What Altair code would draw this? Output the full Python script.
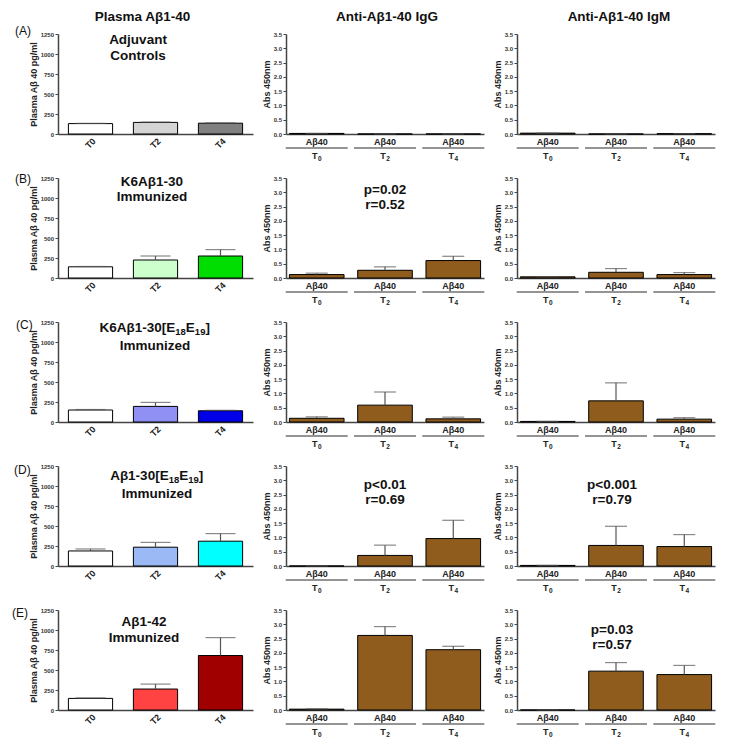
import altair as alt
import pandas as pd

FONT = "Liberation Sans"

# ---------------- data ----------------
times = ["T0", "T2", "T4"]
time_letter = ["T", "T", "T"]
time_digit = ["0", "2", "4"]
antigen = ["Aβ40", "Aβ40", "Aβ40"]
row_labels = ["(A)", "(B)", "(C)", "(D)", "(E)"]
grp_line1 = ["Adjuvant", "K6Aβ1-30", "K6Aβ1-30[E", "Aβ1-30[E", "Aβ1-42"]
grp_line1_tail = [[], [], ["18", "E", "19", "]"], ["18", "E", "19", "]"], []]
grp_line2 = ["Controls", "Immunized", "Immunized", "Immunized", "Immunized"]
col_titles = ["Plasma Aβ1-40", "Anti-Aβ1-40 IgG", "Anti-Aβ1-40 IgM"]

plasma_mean = [[130, 145, 135], [140, 225, 275], [150, 195, 140], [188, 235, 310], [145, 262, 681]]
plasma_sem = [[3, 4, 4], [4, 50, 80], [6, 50, 6], [25, 60, 95], [6, 62, 224]]

igg_mean = [[0.02, 0.0, 0.0], [0.12, 0.27, 0.61], [0.13, 0.59, 0.11], [0.0, 0.37, 0.96], [0.03, 2.61, 2.11]]
igg_sem = [[0.0, 0.0, 0.0], [0.05, 0.12, 0.15], [0.05, 0.46, 0.06], [0.0, 0.36, 0.64], [0.01, 0.31, 0.12]]

igm_mean = [[0.03, 0.0, 0.01], [0.04, 0.20, 0.12], [0.02, 0.74, 0.10], [0.02, 0.72, 0.68], [0.0, 1.36, 1.24]]
igm_sem = [[0.0, 0.0, 0.0], [0.01, 0.13, 0.07], [0.0, 0.63, 0.05], [0.0, 0.67, 0.42], [0.0, 0.30, 0.32]]

igg_stats = ["", "p=0.02\nr=0.52", "", "p<0.01\nr=0.69", ""]
igm_stats = ["", "", "", "p<0.001\nr=0.79", "p=0.03\nr=0.57"]

plasma_ticks = [0, 250, 500, 750, 1000, 1250]
abs_ticks = [0.0, 0.5, 1.0, 1.5, 2.0, 2.5, 3.0, 3.5]

# ---------------- styles / layout ----------------
plasma_colors = [
    ["#ffffff", "#d4d4d4", "#808080"],
    ["#ffffff", "#ccffcc", "#00dd00"],
    ["#ffffff", "#9090f4", "#0000e8"],
    ["#ffffff", "#9ab9f5", "#00ffff"],
    ["#ffffff", "#ff4242", "#a00000"],
]
BROWN = "#8f5c1e"
AX = "#444444"
ERR = "#555555"
W1, W2, H = 195, 198, 100
GFS = 13.5      # group title font size
SFS = 9.5       # subscript font size
SUB_DY = 3.5

rowlab_x = [-43, -43, -42, -44, -46]
rowlab_y = [-3, 1, 3, 4, 3]
grp_x = [80, 94, 97, 99, 86]
grp_y1 = [6, 4, 6, 10, 12]
grp_y2 = [22, 19, 24, 28, 28]
igg_stat_y = [0, 11.5, 0, 18.5, 0]
igm_stat_y = [0, 0, 0, 18.5, 19.5]
title_x = [W1 / 2 - 13, W2 / 2 + 2, W2 / 2 + 3]
TITLE_Y = -17


def y_axis(title, values, fmt):
    return alt.Axis(
        title=title, values=values, format=fmt, grid=False, labelOverlap=False,
        tickSize=3, tickColor=AX, tickWidth=1,
        domainColor=AX, domainWidth=1.5,
        labelFontSize=6, labelFontWeight="bold", labelColor="#333333", labelPadding=1.5,
        titleFontSize=9, titleFontWeight="bold", titleColor="#222222", titlePadding=2,
    )


def txt(s, x, y, size, align="center", weight="bold", dy=0):
    return alt.Chart(pd.DataFrame({"s": [s]})).mark_text(
        align=align, baseline="middle", fontSize=size, fontWeight=weight,
        color="#111111", dy=dy).encode(text="s:N", x=alt.value(x), y=alt.value(y))


def col_title(j):
    return txt(col_titles[j], title_x[j], TITLE_Y, 13.5)


def group_title(i):
    layers = []
    tail = grp_line1_tail[i]
    if not tail:
        layers.append(txt(grp_line1[i], grp_x[i], grp_y1[i], GFS))
    else:
        # estimated widths (bold Arial metrics) of the trailing pieces
        sub_w = lambda s: 0.556 * SFS * len(s)
        w_tail = sub_w(tail[0]) + 0.667 * GFS + sub_w(tail[2]) + 0.333 * GFS
        w_main = {"K6Aβ1-30[E": 5.57 * GFS, "Aβ1-30[E": 4.29 * GFS}[grp_line1[i]]
        x0 = grp_x[i] - (w_main + w_tail) / 2 + w_main
        layers.append(txt(grp_line1[i], x0, grp_y1[i], GFS, align="right"))
        xc = x0
        layers.append(txt(tail[0], xc, grp_y1[i], SFS, align="left", dy=SUB_DY))
        xc += sub_w(tail[0])
        layers.append(txt(tail[1], xc, grp_y1[i], GFS, align="left"))
        xc += 0.667 * GFS
        layers.append(txt(tail[2], xc, grp_y1[i], SFS, align="left", dy=SUB_DY))
        xc += sub_w(tail[2])
        layers.append(txt(tail[3], xc, grp_y1[i], GFS, align="left"))
    layers.append(txt(grp_line2[i], grp_x[i], grp_y2[i], GFS))
    return layers


def plasma_panel(i):
    df = pd.DataFrame({"t": times, "mean": plasma_mean[i], "sem": plasma_sem[i],
                       "c": plasma_colors[i]})
    df["top"] = df["mean"] + df["sem"]
    x = alt.X(
        "t:N", sort=times,
        scale=alt.Scale(paddingInner=0.32, paddingOuter=0.16),
        axis=alt.Axis(title=None, labelAngle=-45, ticks=False, labelFontSize=9,
                      labelFontWeight="bold", labelColor="#222222", labelAlign="center",
                      labelBaseline="middle", labelPadding=9,
                      domainColor=AX, domainWidth=1.5),
    )
    ys = alt.Scale(domain=[0, 1250], nice=False)
    ax = y_axis("Plasma Aβ 40 pg/ml", plasma_ticks, "d")
    base = alt.Chart(df)
    bars = base.mark_bar(stroke="black", strokeWidth=1).encode(
        x=x, y=alt.Y("mean:Q", scale=ys, axis=ax), color=alt.Color("c:N", scale=None))
    err = base.mark_rule(color=ERR, strokeWidth=1.2).encode(
        x=x, y=alt.Y("mean:Q", scale=ys, axis=ax), y2="top:Q")
    cap = base.mark_tick(orient="horizontal", size=30, thickness=1.2, color=ERR).encode(
        x=x, y=alt.Y("top:Q", scale=ys, axis=ax))
    lab = txt(row_labels[i], rowlab_x[i], rowlab_y[i], 12, align="left", weight="normal")
    layers = [bars, err, cap, lab] + group_title(i)
    if i == 0:
        layers.append(col_title(0))
    return alt.layer(*layers).properties(width=W1, height=H)


def ab_panel(i, j, means, sems, stats, stat_y):
    df = pd.DataFrame({"t": times, "mean": means[i], "sem": sems[i],
                       "ag": antigen, "tl": time_letter, "td": time_digit})
    df["top"] = df["mean"] + df["sem"]
    x = alt.X(
        "t:N", sort=times,
        scale=alt.Scale(paddingInner=0.2, paddingOuter=0.05),
        axis=alt.Axis(title=None, labels=False, ticks=False, domainColor=AX, domainWidth=1.5),
    )
    ys = alt.Scale(domain=[0, 3.5], nice=False)
    ax = y_axis("Abs 450nm", abs_ticks, ".1f")
    base = alt.Chart(df)
    bars = base.mark_bar(stroke="black", strokeWidth=1, color=BROWN).encode(
        x=x, y=alt.Y("mean:Q", scale=ys, axis=ax))
    err = base.mark_rule(color=ERR, strokeWidth=1.2).encode(
        x=x, y=alt.Y("mean:Q", scale=ys, axis=ax), y2="top:Q")
    cap = base.mark_tick(orient="horizontal", size=22, thickness=1.2, color=ERR).encode(
        x=x, y=alt.Y("top:Q", scale=ys, axis=ax))
    ag = base.mark_text(fontSize=9, fontWeight="bold", baseline="middle", color="#222222").encode(
        x=x, y=alt.value(H + 8), text="ag:N")
    ul = base.mark_tick(orient="horizontal", size=62, thickness=1.3, color="#333333").encode(
        x=x, y=alt.value(H + 14))
    tl = base.mark_text(fontSize=9, fontWeight="bold", baseline="middle", align="center",
                        dx=-2, color="#222222").encode(
        x=x, y=alt.value(H + 22), text="tl:N")
    td = base.mark_text(fontSize=6.5, fontWeight="bold", baseline="middle", align="left",
                        dx=1.2, dy=2.5, color="#222222").encode(
        x=x, y=alt.value(H + 22), text="td:N")
    layers = [bars, err, cap, ag, ul, tl, td]
    if stats[i]:
        st = alt.Chart(pd.DataFrame({"s": [stats[i]]})).mark_text(
            align="center", baseline="middle", fontSize=13.5, fontWeight="bold",
            lineBreak="\n", lineHeight=15, color="#111111").encode(
            text="s:N", x=alt.value(W2 / 2 + (0 if j == 1 else -4)), y=alt.value(stat_y[i]))
        layers.append(st)
    if i == 0:
        layers.append(col_title(j))
    return alt.layer(*layers).properties(width=W2, height=H)


panels = []
for i in range(5):
    panels.append(plasma_panel(i))
    panels.append(ab_panel(i, 1, igg_mean, igg_sem, igg_stats, igg_stat_y))
    panels.append(ab_panel(i, 2, igm_mean, igm_sem, igm_stats, igm_stat_y))

chart = alt.concat(
    *panels, columns=3, spacing={"row": 44, "column": 33}, bounds="flush", align="each"
).properties(
    padding={"left": 4, "top": 2, "right": 2, "bottom": 2},
    background="white",
).configure(font=FONT).configure_view(stroke=None)

chart.save("out.html", embed_options={"renderer": "svg", "actions": False})
